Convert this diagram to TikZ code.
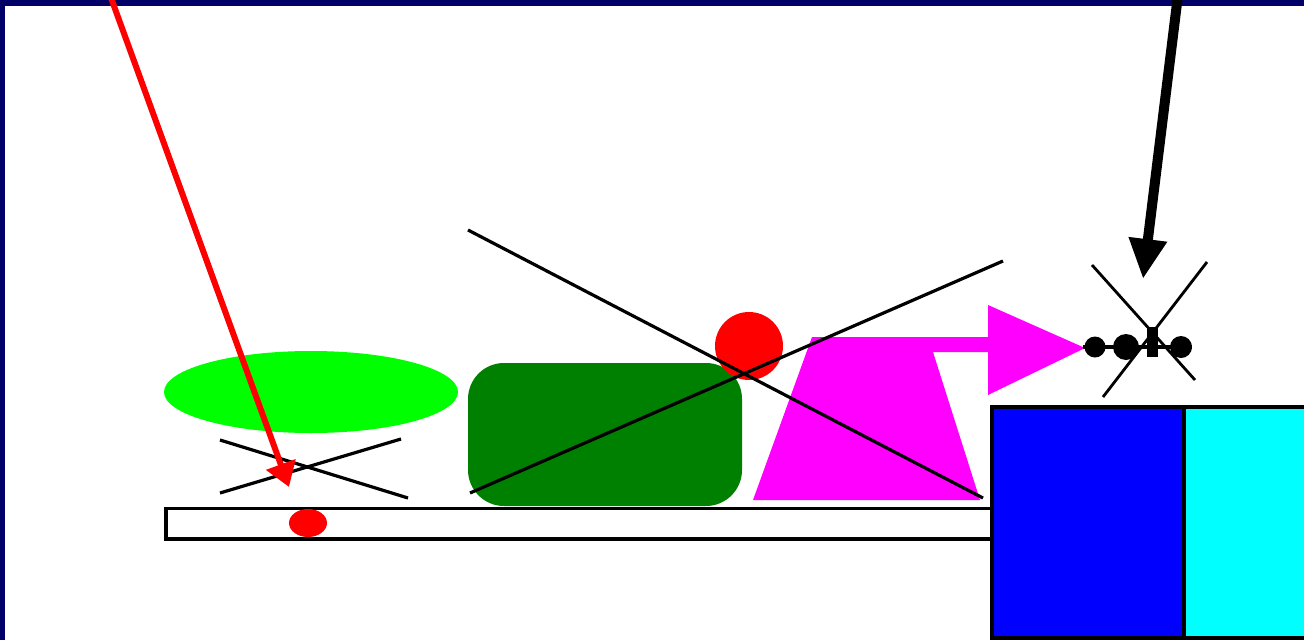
\documentclass[tikz,border=0pt]{standalone}
\usetikzlibrary{arrows.meta}
\definecolor{navyb}{HTML}{000066}
\definecolor{lgreen}{HTML}{00FF00}
\definecolor{dgreen}{HTML}{008000}
\definecolor{mag}{HTML}{FF00FF}
\definecolor{cyanb}{HTML}{00FFFF}
\definecolor{blueb}{HTML}{0000FF}
\tikzset{
  thinline/.style={draw=black, line width=3.2pt},
  boxline/.style={draw=black, line width=3.8pt},
}
\begin{document}
\begin{tikzpicture}[x=1pt,y=-1pt]
\useasboundingbox (0,0) rectangle (1304,640);
\clip (0,0) rectangle (1304,640);
\fill[white] (0,0) rectangle (1304,640);
% border
\fill[navyb] (0,0) rectangle (1304,6);
\fill[navyb] (0,0) rectangle (5,640);
% light green ellipse
\fill[lgreen] (311,392) ellipse [x radius=147, y radius=41];
% X under ellipse
\coordinate (xa1) at (220,440); \coordinate (xa2) at (408,498);
\coordinate (xb1) at (220,493); \coordinate (xb2) at (401,439);
\draw[thinline] (xa1) -- (xa2);
\draw[thinline] (xb1) -- (xb2);
% bar
\draw[boxline, fill=white] (166,508.5) rectangle (992,539);
\fill[red] (308,523) ellipse [x radius=19, y radius=14];
% dark green rounded rect
\fill[dgreen, rounded corners=36pt] (468,363) rectangle (742,506);
% magenta shape
\fill[mag] (753,500) -- (812,337) -- (988,337) -- (988,305) -- (1085,348)
  -- (988,395) -- (988,352) -- (933,352) -- (980,500) -- cycle;
% red circle
\fill[red] (749,346) circle [radius=34];
% long lines
\coordinate (la1) at (468,230); \coordinate (la2) at (983,498);
\coordinate (lb1) at (470,493); \coordinate (lb2) at (1003,261);
\draw[thinline] (la1) -- (la2);
\draw[thinline] (lb1) -- (lb2);
% blue and cyan boxes
\draw[boxline, fill=blueb] (992,407) rectangle (1184,638);
\draw[boxline, fill=cyanb] (1184,407) rectangle (1312,638);
% dots cluster
\coordinate (da) at (1083,347); \coordinate (db) at (1192,347);
\draw[thinline] (da) -- (db);
\fill (1095,347) circle [radius=10.5];
\fill (1126,347) circle [radius=13];
\fill (1181,347) circle [radius=11];
\fill (1147,327) rectangle (1158,357);
\coordinate (ca1) at (1092,265); \coordinate (ca2) at (1195,380);
\coordinate (cb1) at (1207,262); \coordinate (cb2) at (1103,397);
\draw[thinline, line width=2.8pt] (ca1) -- (ca2);
\draw[thinline, line width=2.8pt] (cb1) -- (cb2);
% arrows
\coordinate (rs) at (110,-5); \coordinate (rt) at (289,487);
\draw[red, line width=6pt, -{Triangle[length=24pt,width=30pt]}] (rs) -- (rt);
\coordinate (bs) at (1178,-5); \coordinate (bt) at (1143,279);
\draw[black, line width=10pt, -{Triangle[length=40pt,width=36pt]}] (bs) -- (bt);
\end{tikzpicture}
\end{document}
